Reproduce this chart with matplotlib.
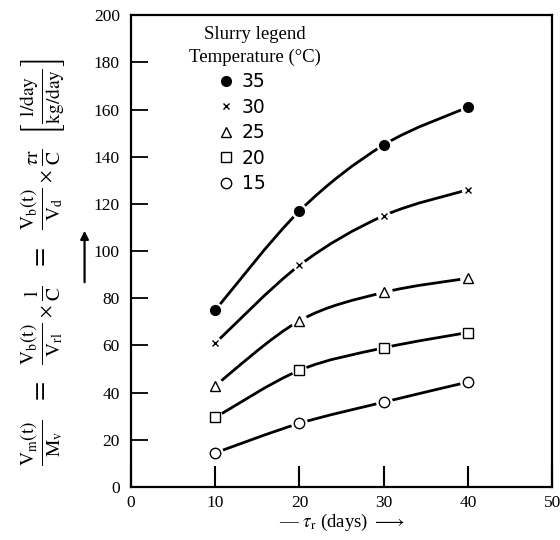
import numpy as np
import matplotlib
matplotlib.use("Agg")
import matplotlib.pyplot as plt
from matplotlib.path import Path
from matplotlib.patches import PathPatch, FancyArrowPatch
from matplotlib.lines import Line2D

# Retention time (days) and normalised gas production for each slurry temperature
retention_days = [10, 20, 30, 40]
temps = ["35", "30", "25", "20", "15"]
gas_35 = [75, 117, 145, 161]
gas_30 = [61, 94, 115, 126]
gas_25 = [43, 70.5, 82.5, 88.5]
gas_20 = [29.5, 49.5, 59, 65.5]
gas_15 = [14.5, 27, 36, 44.5]
series = [gas_35, gas_30, gas_25, gas_20, gas_15]

x_ticks = [0, 10, 20, 30, 40, 50]
y_ticks = [0, 20, 40, 60, 80, 100, 120, 140, 160, 180, 200]

plt.rcParams["font.family"] = ["Liberation Serif", "DejaVu Serif"]
plt.rcParams["mathtext.fontset"] = "stix"

markers = [
    dict(marker="o", ms=7, mfc="black", mec="black", mew=1.0),
    dict(marker="x", ms=5, mfc="black", mec="black", mew=1.0),
    dict(marker="^", ms=7.5, mfc="white", mec="black", mew=1.0),
    dict(marker="s", ms=6.5, mfc="white", mec="black", mew=1.0),
    dict(marker="o", ms=7.5, mfc="white", mec="black", mew=1.0),
]


def smooth_path(xs, ys):
    """Cubic Bezier path (Catmull-Rom tangents) passing through every point."""
    pts = np.column_stack([xs, ys]).astype(float)
    n = len(pts)
    verts = [pts[0]]
    codes = [Path.MOVETO]
    for i in range(n - 1):
        p0 = pts[i - 1] if i > 0 else pts[i]
        p1, p2 = pts[i], pts[i + 1]
        p3 = pts[i + 2] if i + 2 < n else pts[i + 1]
        c1 = p1 + (p2 - p0) / 6.0
        c2 = p2 - (p3 - p1) / 6.0
        verts += [c1, c2, p2]
        codes += [Path.CURVE4] * 3
    return Path(verts, codes)


fig = plt.figure(figsize=(5.6, 5.4), dpi=100)
ax = fig.add_axes([0.234, 0.098, 0.752, 0.874])

for ys, mk in zip(series, markers):
    ax.add_patch(PathPatch(smooth_path(retention_days, ys), fill=False,
                           lw=2.0, edgecolor="black", capstyle="round", zorder=2))
    # white halo leaves a small gap between the curve and each symbol
    ax.plot(retention_days, ys, ls="none", marker="o",
            ms=mk["ms"] + 3.5, mfc="white", mec="white", zorder=3)
    ax.plot(retention_days, ys, ls="none", zorder=4, **mk)

ax.set_xlim(0, 50)
ax.set_ylim(0, 200)
ax.set_xticks(x_ticks)
ax.set_yticks(y_ticks)
ax.tick_params(axis="x", direction="in", length=15, width=1.5, labelsize=12.5, pad=6)
ax.tick_params(axis="y", direction="in", length=12, width=1.3, labelsize=12.5, pad=8)
for s in ax.spines.values():
    s.set_linewidth(1.6)

# Legend: heading and one entry per slurry temperature
ax.text(0.295, 0.977, "Slurry legend\nTemperature (°C)", transform=ax.transAxes,
        ha="center", va="top", fontsize=13.5, linespacing=1.4)
handles = [Line2D([], [], ls="none", **mk) for mk in markers]
leg = ax.legend(handles, temps, loc="upper left", bbox_to_anchor=(0.19, 0.895),
                frameon=False, handlelength=0.8, handletextpad=0.45,
                labelspacing=0.35, borderaxespad=0,
                prop={"family": "DejaVu Sans", "size": 13.5})

# Axis titles
ax.set_xlabel(r"— $\tau_{\mathrm{r}}$ (days) $\longrightarrow$", fontsize=13.5, labelpad=0)
ylab = (r"$\frac{\mathrm{V_m(t)}}{\mathrm{M_v}}\ \ =\ \ "
        r"\frac{\mathrm{V_b(t)}}{\mathrm{V_{rl}}}\,{}_{\times}\,\frac{\mathrm{l}}{\mathrm{C}}\ \ =\ \ "
        r"\frac{\mathrm{V_b(t)}}{\mathrm{V_d}}\,{}_{\times}\,\frac{\tau\mathrm{r}}{\mathrm{C}}\ \ "
        r"\left[\frac{\mathrm{l/day}}{\mathrm{kg/day}}\right]$")
fig.text(0.077, 0.515, ylab, rotation=90, ha="center", va="center", fontsize=20)
fig.add_artist(FancyArrowPatch(
    (0.151, 1 - 285 / 540), (0.151, 1 - 228 / 540), transform=fig.transFigure,
    arrowstyle="-|>", mutation_scale=12, lw=1.6, color="black"))

fig.savefig("out.png", dpi=100)
